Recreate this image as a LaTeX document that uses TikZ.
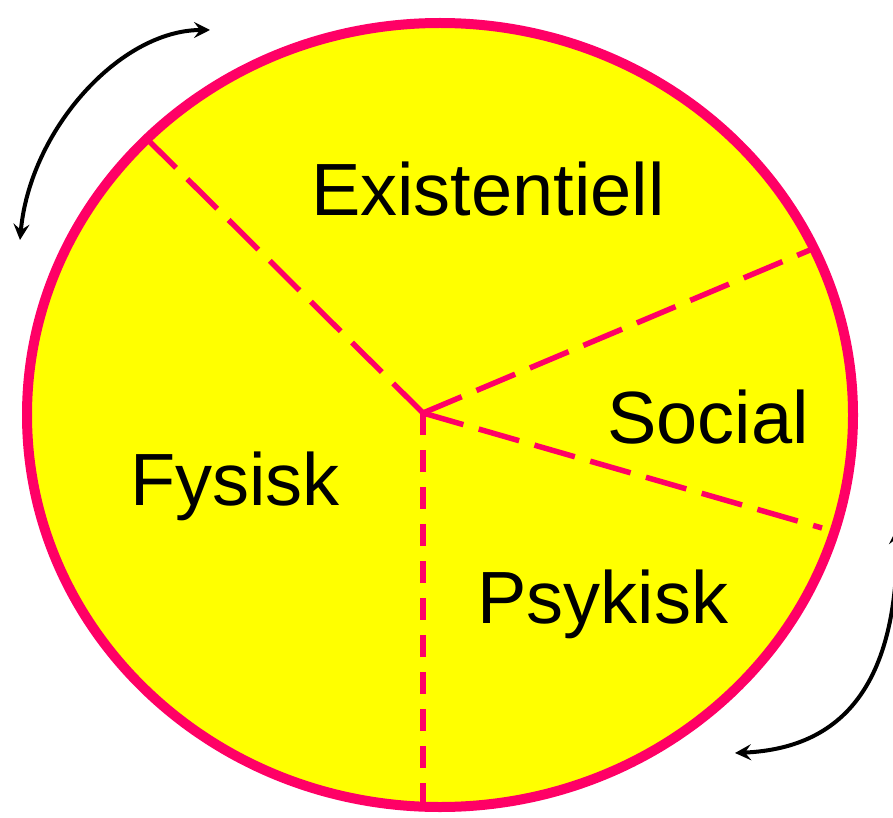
\documentclass[tikz,border=0pt]{standalone}
\usepackage{fontspec}
\setmainfont{Liberation Sans}
\usetikzlibrary{arrows.meta}
\definecolor{rim}{RGB}{255,0,102}
\definecolor{fillyel}{RGB}{255,255,0}
\begin{document}
\begin{tikzpicture}[x=1pt,y=-1pt,
  spoke/.style={draw=rim,line width=5.5pt,dash pattern=on 42pt off 16pt},
  vspoke/.style={draw=rim,line width=5.5pt,dash pattern=on 22pt off 15pt},
  label/.style={anchor=base,inner sep=0pt,font=\fontsize{74}{80}\selectfont},
  turn/.style={draw=black,line width=4pt,{Stealth[length=16pt,width=16pt,inset=6pt]}-{Stealth[length=16pt,width=16pt,inset=6pt]}}]
\useasboundingbox (0,0) rectangle (893,818);
\clip (0,0) rectangle (893,818);
\draw[fill=fillyel,draw=rim,line width=10pt] (440,415) ellipse [x radius=413, y radius=392];
\coordinate (c) at (423,413);
\coordinate (ul) at (143,135);
\coordinate (ur) at (810,250);
\coordinate (lr) at (822,528);
\coordinate (bt) at (423,806);
\draw[spoke] (c) -- (ul);
\draw[spoke] (c) -- (ur);
\draw[spoke] (c) -- (lr);
\draw[vspoke] (c) -- (bt);
\node[label] (ex) at (488,215) {Existentiell};
\node[label] (so) at (708,443) {Social};
\node[label] (fy) at (235,505) {Fysisk};
\node[label] (ps) at (603,623) {Psykisk};
\coordinate (a1) at (20,240);
\coordinate (a2) at (210,30);
\draw[turn] (a1) .. controls (30,130) and (120,30) .. (a2);
\coordinate (b1) at (897,528);
\coordinate (b2) at (735,753);
\draw[turn] (b1) .. controls (898,675) and (850,748) .. (b2);
\end{tikzpicture}
\end{document}
